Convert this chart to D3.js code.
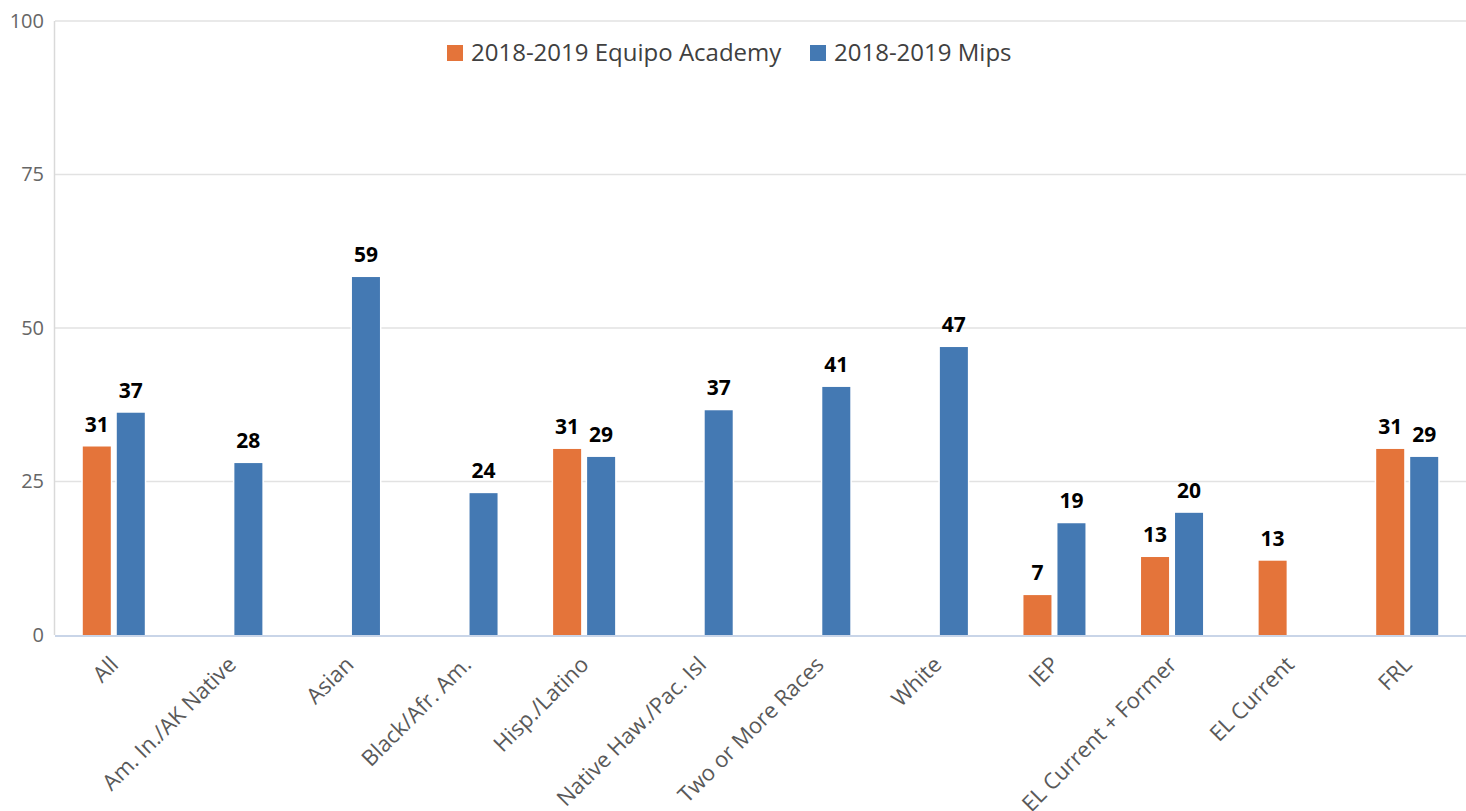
<!DOCTYPE html>
<html><head><meta charset="utf-8">
<script src="https://cdn.jsdelivr.net/npm/d3@7"></script>
<style>body{margin:0;background:#fff}svg{display:block}text{font-family:"Open Sans",sans-serif}</style>
</head><body><svg id="c" width="1466" height="811"></svg>
<script>
const categories = ["All","Am. In./AK Native","Asian","Black/Afr. Am.","Hisp./Latino","Native Haw./Pac. Isl","Two or More Races","White","IEP","EL Current + Former","EL Current","FRL"];
const seriesNames = ["2018-2019 Equipo Academy","2018-2019 Mips"];
const equipo = [30.7,null,null,null,30.3,null,null,null,6.5,12.7,12.1,30.3];
const mips = [36.2,28.0,58.3,23.1,29.0,36.6,40.4,46.9,18.2,19.9,null,29.0];
const equipoLabels = ["31","","","","31","","","","7","13","13","31"];
const mipsLabels = ["37","28","59","24","29","37","41","47","19","20","","29"];
const yTicks = [0,25,50,75,100];
const colors = ["#e4743a","#4479b3"];

(function(){
const svg = d3.select("#c");
const mLeft = 55, mRight = 1466, mTop = 21, mBottom = 635;
const x = d3.scaleBand().domain(categories).range([mLeft, mRight]).paddingInner(0).paddingOuter(0);
const y = d3.scaleLinear().domain([0,100]).range([mBottom, mTop]);
const barW = 28, gap = 6;

svg.append("g").selectAll("line").data(yTicks.filter(d=>d>0)).join("line")
  .attr("x1", mLeft).attr("x2", mRight).attr("y1", d=>y(d)).attr("y2", d=>y(d))
  .attr("stroke", "#e2e2e2").attr("stroke-width", 1.5);
svg.append("line").attr("x1", mLeft-0.5).attr("x2", mLeft-0.5).attr("y1", y(100)).attr("y2", mBottom)
  .attr("stroke", "#d9d9d9").attr("stroke-width", 1.5);
const yAxis = d3.axisLeft(y).tickValues(yTicks).tickSize(0).tickPadding(11);
const ya = svg.append("g").attr("transform", `translate(${mLeft},0)`).call(yAxis);
ya.select(".domain").remove();
ya.selectAll("text").attr("font-size", 20).attr("fill", "#666").attr("font-family", "Open Sans");

const series = [equipo, mips];
const labels = [equipoLabels, mipsLabels];
series.forEach((vals, si) => {
  const g = svg.append("g");
  categories.forEach((c, i) => {
    const v = vals[i];
    if (v == null) return;
    const cx = x(c) + x.bandwidth()/2;
    const bx = si === 0 ? cx - gap/2 - barW : cx + gap/2;
    g.append("rect").attr("x", bx).attr("y", y(v)).attr("width", barW).attr("height", mBottom - y(v))
      .attr("fill", colors[si]).attr("stroke", "#fff").attr("stroke-width", 3).attr("paint-order","stroke");
    g.append("text").attr("x", bx + barW/2).attr("y", y(v) - 15).attr("text-anchor", "middle")
      .attr("font-size", 21).attr("font-weight", "bold").attr("fill", "#000").text(labels[si][i]);
  });
});
svg.append("line").attr("x1", mLeft).attr("x2", mRight).attr("y1", mBottom+1).attr("y2", mBottom+1)
  .attr("stroke", "#c9d5e8").attr("stroke-width", 2);

const xAxis = d3.axisBottom(x).tickSize(0).tickPadding(0);
const xa = svg.append("g").attr("transform", `translate(0,${mBottom})`).call(xAxis);
xa.select(".domain").remove();
xa.selectAll("text").attr("font-size", 22).attr("fill", "#595959").attr("font-family", "Open Sans")
  .attr("text-anchor", "end").attr("dy", null).attr("y", 0)
  .attr("transform", "translate(6,31) rotate(-45)");

const leg = svg.append("g");
const legItems = [{x:447, name:seriesNames[0], c:colors[0]},{x:810, name:seriesNames[1], c:colors[1]}];
legItems.forEach(d => {
  leg.append("rect").attr("x", d.x).attr("y", 45).attr("width", 16).attr("height", 16).attr("fill", d.c);
  leg.append("text").attr("x", d.x + 24).attr("y", 61).attr("font-size", 24).attr("fill", "#404040").text(d.name);
});
})();
</script></body></html>
